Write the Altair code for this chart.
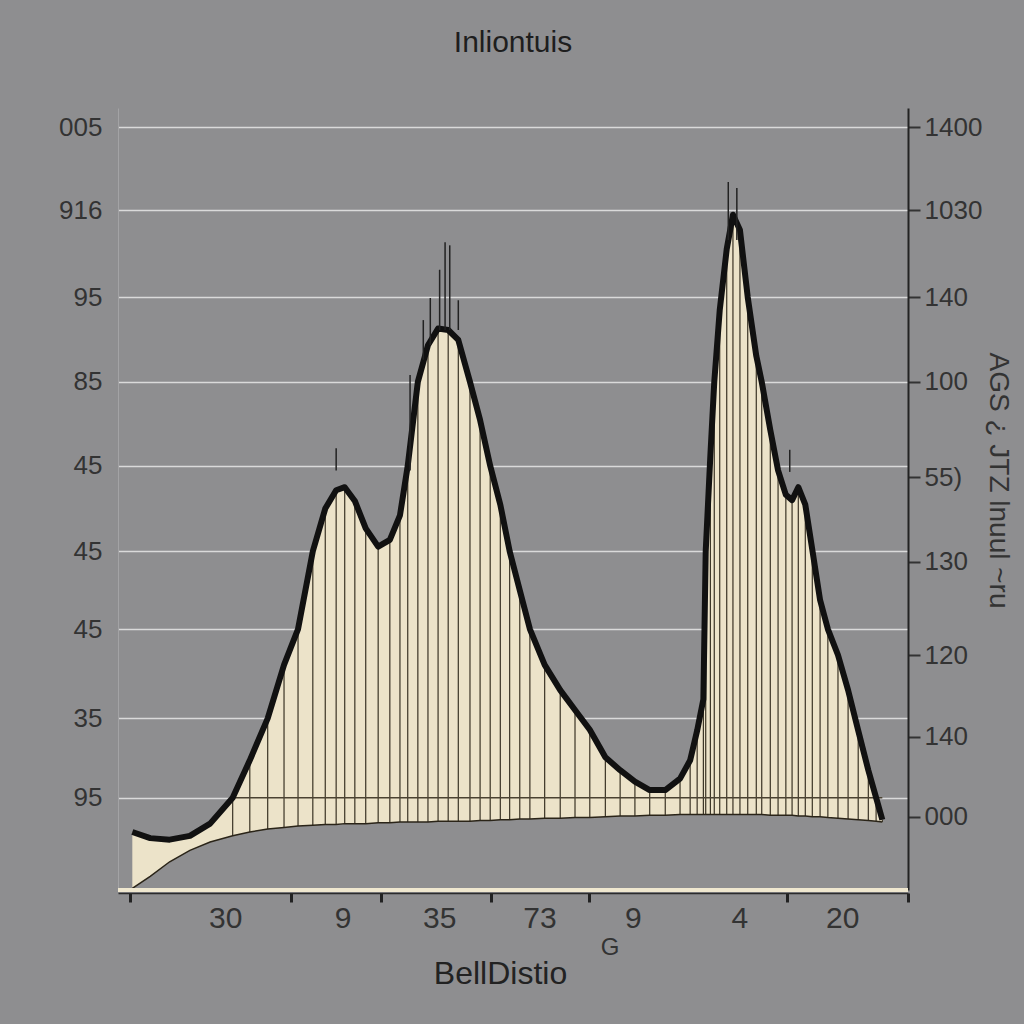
import altair as alt
import pandas as pd

# ---- curve data ----
x_vals = [0.3, 2.6, 5.1, 7.7, 10.3, 13.2, 15.4, 17.7, 19.8, 21.6, 23.5, 25.1, 26.5, 27.6,
          28.9, 30.3, 31.9, 33.4, 34.7, 35.7, 37.0, 38.3, 39.6, 40.9, 42.2, 43.7, 45.0,
          46.3, 47.6, 48.8, 50.1, 51.4, 53.3, 55.3, 57.2, 59.1, 61.1, 63.0, 64.9, 66.8,
          68.8, 70.7, 72.0, 72.9, 73.7, 74.0, 74.6, 75.1, 75.8, 76.7, 77.5, 78.4, 79.4,
          80.5, 81.2, 82.3, 83.3, 84.3, 85.1, 85.9, 86.8, 87.7, 88.7, 89.7, 91.0, 92.3,
          93.6, 94.9, 95.9, 96.7]
top_vals = [7.6, 6.8, 6.6, 7.1, 8.7, 12.1, 17.0, 22.5, 29.5, 34.2, 44.4, 50.0, 52.4, 52.8,
            51.0, 47.4, 45.0, 45.9, 49.1, 55.6, 66.6, 71.4, 73.6, 73.4, 72.1, 66.6, 61.6,
            55.6, 50.5, 44.4, 39.3, 34.2, 29.5, 26.2, 23.6, 21.0, 17.4, 15.7, 14.2, 13.1,
            13.1, 14.6, 17.0, 20.9, 25.0, 44.4, 57.0, 66.6, 76.0, 84.0, 88.5, 86.5, 77.7,
            70.0, 66.6, 60.3, 55.0, 51.8, 51.1, 52.8, 50.5, 44.6, 38.0, 34.2, 30.8, 26.2,
            20.9, 15.7, 12.1, 9.2]
base_vals = [0.2, 1.8, 3.7, 5.2, 6.3, 7.1, 7.6, 8.0, 8.2, 8.4, 8.5, 8.6, 8.6, 8.7,
             8.7, 8.7, 8.8, 8.8, 8.9, 8.9, 8.9, 8.9, 9.0, 9.0, 9.0, 9.0, 9.1,
             9.1, 9.2, 9.2, 9.3, 9.3, 9.4, 9.4, 9.5, 9.5, 9.6, 9.7, 9.7, 9.8,
             9.8, 9.9, 9.9, 9.9, 9.9, 9.9, 9.9, 9.9, 9.9, 9.9, 9.9, 9.9, 9.9,
             9.9, 9.9, 9.8, 9.8, 9.8, 9.8, 9.7, 9.7, 9.6, 9.6, 9.5, 9.4, 9.3,
             9.2, 9.1, 9.0, 8.9]

# small spikes above the peaks
spike_x = [36.0, 37.7, 38.6, 39.8, 40.5, 41.1, 42.2, 26.5, 84.8, 76.9, 78.0]
spike_top = [67.5, 74.7, 77.6, 81.3, 84.9, 84.5, 77.3, 57.9, 57.7, 92.8, 92.0]
spike_bottom = [55.0, 69.5, 71.4, 73.4, 73.4, 73.4, 73.4, 55.0, 54.8, 85.2, 85.2]

# dark line across the fill
dark_line_x = [13.2]
dark_line_x2 = [96.7]
dark_line_y = [12.1]

# axes
left_tick_values = [100, 89.1, 77.7, 66.6, 55.6, 44.4, 34.2, 22.5, 12.1]
left_tick_labels = ["005", "916", "95", "85", "45", "45", "45", "35", "95"]
right_tick_values = [100, 89.1, 77.7, 66.6, 54.1, 43.0, 30.8, 20.1, 9.6]
right_tick_labels = ["1400", "1030", "140", "100", "55)", "130", "120", "140", "000"]
x_tick_values = [0, 20.7, 32.3, 46.4, 59.0, 84.4, 100]
x_label_pos = [12.3, 27.4, 39.8, 52.7, 64.7, 78.4, 91.6]
x_labels = ["30", "9", "35", "73", "9", "4", "20"]
extra_label_pos = [61.7]
extra_labels = ["G"]

TITLE = "Inliontuis"
X_TITLE = "BellDistio"
RIGHT_TITLE = "AGS \u00bf JTZ lnuul ~ru"

FONT = "Liberation Sans"
W, H = 790, 782


def label_expr(vals, labs):
    s = "''"
    for v, l in reversed(list(zip(vals, labs))):
        s = f"datum.value == {v} ? '{l}' : ({s})"
    return s


curve = pd.DataFrame({"x": x_vals, "top": top_vals, "base": base_vals})
spikes = pd.DataFrame({"x": spike_x, "top": spike_top, "base": spike_bottom})
dark = pd.DataFrame({"x": dark_line_x, "x2": dark_line_x2, "y": dark_line_y})
xlab = pd.DataFrame({"x": x_label_pos, "label": x_labels})
xlab2 = pd.DataFrame({"x": extra_label_pos, "label": extra_labels})
rdf = pd.DataFrame({"v": right_tick_values})

xs = alt.Scale(domain=[-1.54, 100], nice=False, zero=False)
ys = alt.Scale(domain=[0, 102.5], nice=False, zero=False)

x_axis = alt.Axis(values=x_tick_values, labels=False, ticks=True, tickSize=9,
                  tickColor="#222222", tickWidth=3, domainColor="#2b2b2b",
                  domainWidth=1.5, offset=3, grid=False, title=X_TITLE,
                  titleFont=FONT, titleFontSize=32, titleFontWeight="normal",
                  titleColor="#222222", titleX=382, titleY=80,
                  titleBaseline="middle", titleAlign="center")

left_axis = alt.Axis(values=left_tick_values, labelExpr=label_expr(left_tick_values, left_tick_labels),
                     ticks=False, domainColor="#a3a3a5", domainWidth=1, grid=True,
                     gridColor="#dadada", gridWidth=1.5, labelFont=FONT, labelFontSize=26,
                     labelColor="#333333", labelPadding=16, title=None, orient="left")

right_axis = alt.Axis(values=right_tick_values, labelExpr=label_expr(right_tick_values, right_tick_labels),
                      ticks=True, tickSize=12, tickColor="#333333", tickWidth=2,
                      domainColor="#222222", domainWidth=2, grid=False,
                      labelFont=FONT, labelFontSize=26, labelColor="#333333",
                      labelPadding=4, orient="right", title=RIGHT_TITLE,
                      titleFont=FONT, titleFontSize=28, titleFontWeight="normal",
                      titleColor="#333333", titleAngle=90, titleX=89, titleY=372,
                      titleBaseline="middle", titleAlign="center")

area = alt.Chart(curve).mark_area(color="#ece3c9", opacity=1).encode(
    x=alt.X("x:Q", scale=xs, axis=x_axis),
    y=alt.Y("top:Q", scale=ys, axis=left_axis),
    y2="base:Q",
)

rules = alt.Chart(curve).transform_filter("datum.x >= 13").mark_rule(
    color="#3a3325", strokeWidth=1.2).encode(
    x=alt.X("x:Q", scale=xs),
    y=alt.Y("top:Q", scale=ys, axis=None),
    y2="base:Q",
)

dark_rule = alt.Chart(dark).mark_rule(color="#4a4232", strokeWidth=1.5).encode(
    x=alt.X("x:Q", scale=xs),
    x2="x2:Q",
    y=alt.Y("y:Q", scale=ys, axis=None),
)

base_line = alt.Chart(curve).mark_line(color="#2a2418", strokeWidth=1.5).encode(
    x=alt.X("x:Q", scale=xs),
    y=alt.Y("base:Q", scale=ys, axis=None),
)

outline = alt.Chart(curve).mark_line(color="#111111", strokeWidth=6, strokeJoin="round").encode(
    x=alt.X("x:Q", scale=xs),
    y=alt.Y("top:Q", scale=ys, axis=None),
)

spike_rules = alt.Chart(spikes).mark_rule(color="#222222", strokeWidth=1.5).encode(
    x=alt.X("x:Q", scale=xs),
    y=alt.Y("top:Q", scale=ys, axis=None),
    y2="base:Q",
)

cream_axis = alt.Chart(curve).mark_rule(color="#efe7cf", strokeWidth=3).encode(
    y=alt.YDatum(0, scale=ys, axis=None),
)

x_text = alt.Chart(xlab).mark_text(font=FONT, fontSize=30, color="#333333",
                                   baseline="middle", align="center").encode(
    x=alt.X("x:Q", scale=xs),
    y=alt.value(811),
    text="label:N",
)

g_text = alt.Chart(xlab2).mark_text(font=FONT, fontSize=24, color="#333333",
                                    baseline="middle", align="center").encode(
    x=alt.X("x:Q", scale=xs),
    y=alt.value(840),
    text="label:N",
)

right = alt.Chart(rdf).mark_tick(opacity=0).encode(
    y=alt.Y("v:Q", scale=ys, axis=right_axis),
)

chart = alt.layer(area, rules, dark_rule, base_line, outline, spike_rules, cream_axis,
                  x_text, g_text, right).resolve_scale(y="independent").properties(
    width=W, height=H,
    title=alt.TitleParams(TITLE, font=FONT, fontSize=30, fontWeight="normal",
                          color="#1e1e1e", anchor="middle", offset=50),
    autosize=alt.AutoSizeParams(type="none"),
    padding={"left": 118, "top": 108, "right": 116, "bottom": 134},
    background="#8e8e90",
).configure_view(stroke=None)

chart.save("out.html", embed_options={"renderer": "svg", "actions": False})
